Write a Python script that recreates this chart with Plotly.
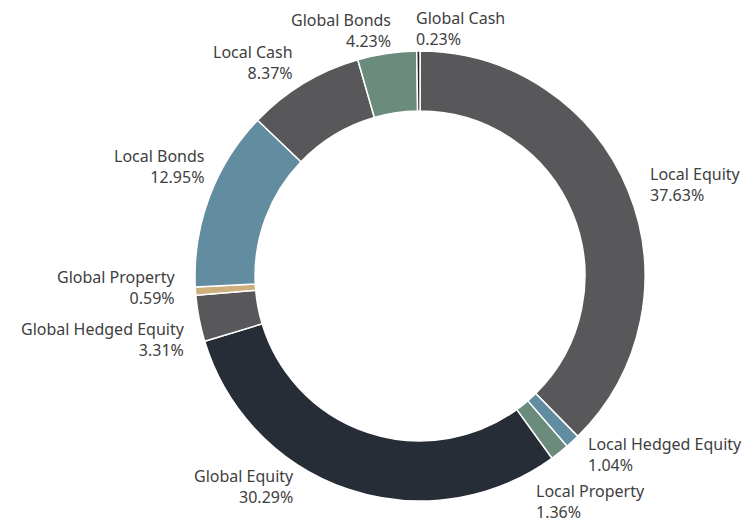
import math
import plotly.graph_objects as go

labels = ["Local Equity", "Local Hedged Equity", "Local Property", "Global Equity",
          "Global Hedged Equity", "Global Property", "Local Bonds", "Local Cash",
          "Global Bonds", "Global Cash"]
values = [37.63, 1.04, 1.36, 30.29, 3.31, 0.59, 12.95, 8.37, 4.23, 0.23]

colors = ["#58585a", "#628ca0", "#6b8c7c", "#272d37", "#58585a",
          "#cfae7e", "#628ca0", "#58585a", "#6b8c7c", "#222222"]

# label nudges in px (style, for collision avoidance)
nudges = {
    "Local Equity": (-2, 3),
    "Local Hedged Equity": (-2, -5),
    "Local Property": (-40, 29),
    "Global Equity": (-45, -26),
    "Global Hedged Equity": (11, 16),
    "Global Property": (5, -5),
    "Local Bonds": (19, -22),
    "Local Cash": (3, 1),
    "Global Bonds": (9, 2),
    "Global Cash": (-3, 2),
}

OFF = 8  # page body margin
W, H = 751 - OFF, 523 - OFF
cx, cy, R = 420 - OFF, 276 - OFF, 225
LR = 250

fig = go.Figure(go.Pie(
    labels=labels, values=values, sort=False, direction="clockwise", rotation=0,
    hole=0.733, textinfo="none", hoverinfo="label+value",
    marker=dict(colors=colors, line=dict(color="white", width=1.5)),
    domain=dict(x=[(cx - R) / W, (cx + R) / W], y=[(H - cy - R) / H, (H - cy + R) / H]),
    showlegend=False,
))

total = sum(values)
cum = 0
for lab, v in zip(labels, values):
    mid = (cum + v / 2) / total * 2 * math.pi
    cum += v
    s, c = math.sin(mid), math.cos(mid)
    dx, dy = nudges.get(lab, (0, 0))
    px = cx + LR * s + dx
    py = cy - LR * c + dy
    left = s > -0.02
    fig.add_annotation(
        x=px / W, y=(H - py) / H, xref="paper", yref="paper",
        text=f"{lab}<br>{v:.2f}%", showarrow=False, borderpad=0,
        xanchor="left" if left else "right", yanchor="middle",
        align="left" if left else "right",
        font=dict(family="Noto Sans", size=16, color="#404040"),
    )

fig.update_layout(
    width=W, height=H, margin=dict(l=0, r=0, t=0, b=0),
    paper_bgcolor="white", plot_bgcolor="white",
)
fig.write_html("out.html")
